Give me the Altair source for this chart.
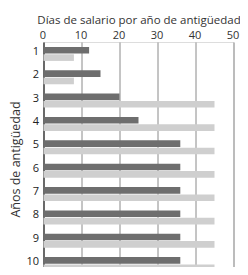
import altair as alt
import pandas as pd

years = ["1", "2", "3", "4", "5", "6", "7", "8", "9", "10"]
series = ["Oscuro", "Claro"]
dark_values = [12, 15, 20, 25, 36, 36, 36, 36, 36, 36]
light_values = [8, 8, 45, 45, 45, 45, 45, 45, 45, 45]
x_ticks = [0, 10, 20, 30, 40, 50]

rows = []
for y, d, l in zip(years, dark_values, light_values):
    rows.append({"year": y, "serie": series[0], "value": d})
    rows.append({"year": y, "serie": series[1], "value": l})
df = pd.DataFrame(rows)

font = "Open Sans"

chart = alt.Chart(df).mark_bar().encode(
    x=alt.X("value:Q",
            scale=alt.Scale(domain=[0, 50], nice=False),
            axis=alt.Axis(orient="top", values=x_ticks, title="Días de salario por año de antigüedad",
                          grid=True, gridColor="#8a8a8a", gridWidth=1, ticks=False, domain=False,
                          labelFlush=False, labelOffset=-1,
                          labelFont=font, labelFontSize=11, labelColor="#333", labelPadding=2,
                          titleFont=font, titleFontSize=11.5, titleFontWeight="normal", titleColor="#333",
                          titlePadding=4)),
    y=alt.Y("year:O", sort=years,
            scale=alt.Scale(paddingInner=0.4, paddingOuter=0.21, range=[0, 234]),
            axis=alt.Axis(title="Años de antigüedad", ticks=False, domain=True, domainColor="#333",
                          domainWidth=1.2, labelFont=font, labelFontSize=11, labelColor="#222",
                          labelPadding=5, labelOffset=-2, titleFont=font, titleFontSize=12.5,
                          titleFontWeight="normal", titleColor="#333", titlePadding=3)),
    yOffset=alt.YOffset("serie:N", sort=series, scale=alt.Scale(paddingInner=0.1)),
    color=alt.Color("serie:N", sort=series,
                    scale=alt.Scale(domain=series, range=["#6e6e6e", "#cfcfcf"]), legend=None),
).properties(
    width=190, height=225,
    autosize=alt.AutoSizeParams(type="none"),
    padding={"left": 35.5, "top": 34, "right": 6.5, "bottom": 0},
).configure_view(stroke=None).configure(background="white")

chart.save("out.html", embed_options={"renderer": "svg", "actions": False})
